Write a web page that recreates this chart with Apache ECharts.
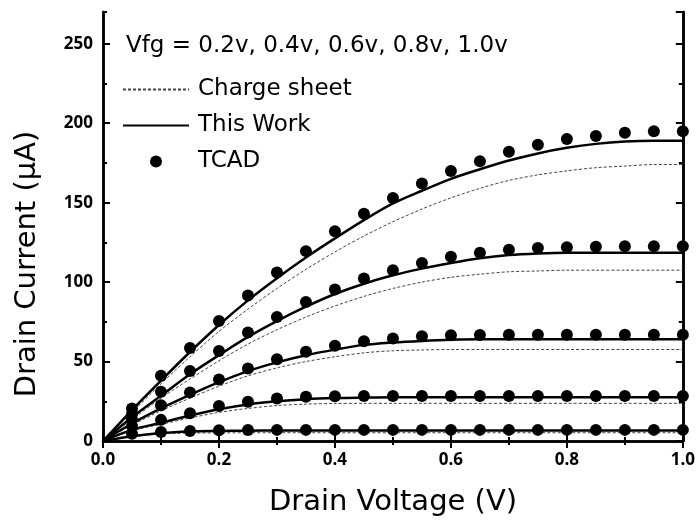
<!DOCTYPE html>
<html>
<head>
<meta charset="utf-8">
<script src="https://cdn.jsdelivr.net/npm/echarts@6/dist/echarts.min.js"></script>
<style>html,body{margin:0;padding:0;background:#fff}#c{width:698px;height:527px}</style>
</head>
<body>
<div id="c"></div>
<script>
// Drain voltage samples
var vdLine = [0, 0.05, 0.1, 0.15, 0.2, 0.25, 0.3, 0.35, 0.4, 0.45, 0.5, 0.55, 0.6, 0.65, 0.7, 0.75, 0.8, 0.85, 0.9, 0.95, 1.0];
var vdTcad = [0.05, 0.1, 0.15, 0.2, 0.25, 0.3, 0.35, 0.4, 0.45, 0.5, 0.55, 0.6, 0.65, 0.7, 0.75, 0.8, 0.85, 0.9, 0.95, 1.0];
var vfgList = ['0.2', '0.4', '0.6', '0.8', '1.0'];

// TCAD (uA)
var tcad02 = [4.5, 5.6, 6.3, 6.7, 6.9, 7.0, 7.0, 7.0, 7.0, 7.0, 7.0, 7.0, 7.0, 7.0, 7.0, 7.0, 7.0, 7.0, 7.0, 7.0];
var tcad04 = [9.5, 13.3, 17.4, 22.0, 24.7, 26.8, 27.8, 28.2, 28.3, 28.3, 28.3, 28.3, 28.3, 28.3, 28.3, 28.3, 28.3, 28.3, 28.3, 28.3];
var tcad06 = [13.5, 22.5, 30.6, 38.7, 45.6, 51.5, 56.1, 59.9, 62.8, 64.5, 66.0, 66.5, 66.7, 66.8, 66.8, 66.8, 66.8, 66.8, 66.8, 66.8];
var tcad08 = [17.0, 31.0, 44.0, 56.7, 68.3, 78.0, 87.5, 95.3, 102.2, 107.4, 112.0, 116.0, 118.5, 120.4, 121.4, 122.0, 122.3, 122.5, 122.5, 122.5];
var tcad10 = [20.5, 41.0, 58.5, 75.5, 91.5, 106.0, 119.5, 132.0, 143.0, 153.0, 162.0, 170.0, 176.0, 182.0, 186.5, 190.0, 192.0, 194.0, 195.0, 195.0];

// This Work model (uA)
var work02 = [0, 3.0, 5.0, 6.0, 6.3, 6.5, 6.6, 6.6, 6.6, 6.6, 6.6, 6.6, 6.6, 6.6, 6.6, 6.6, 6.6, 6.6, 6.6, 6.6, 6.6];
var work04 = [0, 7.0, 11.5, 16.0, 20.0, 23.0, 25.0, 26.3, 27.0, 27.3, 27.5, 27.5, 27.5, 27.5, 27.5, 27.5, 27.5, 27.5, 27.5, 27.5, 27.5];
var work06 = [0, 11.0, 20.5, 29.0, 37.0, 44.0, 49.5, 54.0, 57.5, 60.5, 62.0, 63.0, 63.7, 64.0, 64.0, 64.0, 64.0, 64.0, 64.0, 64.0, 64.0];
var work08 = [0, 15.0, 28.5, 42.0, 54.0, 65.5, 75.5, 84.5, 92.5, 99.0, 104.3, 108.5, 112.0, 115.0, 117.0, 118.0, 118.5, 118.5, 118.5, 118.5, 118.5];
var work10 = [0, 19.5, 38.0, 56.0, 73.0, 88.5, 102.5, 115.5, 127.5, 139.0, 149.5, 157.5, 165.0, 171.0, 176.5, 181.0, 184.5, 187.0, 188.5, 189.0, 189.0];

// Charge sheet model (uA)
var sheet02 = [0, 2.8, 4.5, 5.0, 5.1, 5.2, 5.2, 5.2, 5.2, 5.2, 5.2, 5.2, 5.2, 5.2, 5.2, 5.2, 5.2, 5.2, 5.2, 5.2, 5.2];
var sheet04 = [0, 6.5, 10.5, 14.5, 18.0, 20.5, 22.3, 23.2, 23.6, 23.7, 23.7, 23.7, 23.7, 23.7, 23.7, 23.7, 23.7, 23.7, 23.7, 23.7, 23.7];
var sheet06 = [0, 10.0, 19.0, 27.0, 34.5, 41.0, 46.0, 50.0, 53.0, 55.5, 56.8, 57.3, 57.6, 57.6, 57.6, 57.6, 57.6, 57.6, 57.6, 57.6, 57.6];
var sheet08 = [0, 13.5, 27.0, 39.0, 50.5, 61.0, 70.0, 78.0, 85.0, 91.0, 96.0, 100.0, 103.0, 105.0, 106.5, 107.0, 107.5, 107.5, 107.5, 107.5, 107.5];
var sheet10 = [0, 18.0, 36.0, 53.0, 69.0, 83.0, 96.0, 108.0, 119.0, 129.0, 138.0, 146.0, 153.0, 159.0, 164.0, 167.5, 170.0, 172.0, 173.0, 174.0, 174.0];

var yTicks = [0, 50, 100, 150, 200, 250];

var tcadAll = [tcad02, tcad04, tcad06, tcad08, tcad10];
var workAll = [work02, work04, work06, work08, work10];
var sheetAll = [sheet02, sheet04, sheet06, sheet08, sheet10];

function pair(xs, ys) { return xs.map(function (x, i) { return [x, ys[i]]; }); }

var TXT = 'DejaVu Sans';
var LBL = { fontFamily: 'Open Sans', fontWeight: 'bold', fontSize: 17, color: '#000' };
var AX = { lineStyle: { color: '#000', width: 2.5 } };
var CLEAR = 'rgba(0,0,0,0)';

var series = [];
for (var k = 0; k < 5; k++) {
  series.push({
    name: 'Charge sheet', type: 'line', data: pair(vdLine, sheetAll[k]), symbol: 'none', smooth: 0.3,
    itemStyle: { color: CLEAR, borderWidth: 0 },
    lineStyle: { color: '#444', width: 1, type: [3, 2] }, z: 2, silent: true
  });
  series.push({
    name: 'This Work', type: 'line', data: pair(vdLine, workAll[k]), symbol: 'none', smooth: 0.3,
    itemStyle: { color: CLEAR, borderWidth: 0 },
    lineStyle: { color: '#000', width: 2.5 }, z: 3, silent: true
  });
  series.push({
    name: 'TCAD', type: 'scatter', data: pair(vdTcad, tcadAll[k]), symbol: 'circle', symbolSize: 12,
    itemStyle: { color: '#000', opacity: 1 }, z: 4, silent: true
  });
}

var tickStyle = { width: 2, color: '#000' };

var chart = echarts.init(document.getElementById('c'), null, { renderer: 'canvas' });
chart.setOption({
  animation: false,
  backgroundColor: '#fff',
  grid: { left: 103, right: 14, top: 12, bottom: 86 },
  title: {
    text: 'Vfg = ' + vfgList.map(function (v) { return v + 'v'; }).join(', '),
    left: 126, top: 33, padding: 0,
    textStyle: { fontFamily: TXT, fontWeight: 'normal', fontSize: 23, lineHeight: 26, color: '#000' }
  },
  legend: {
    orient: 'vertical', left: 122, top: 77, padding: 0, itemWidth: 66, itemHeight: 12, itemGap: 11,
    data: ['Charge sheet', 'This Work', 'TCAD'],
    textStyle: { fontFamily: TXT, fontSize: 23, lineHeight: 25, color: '#000', padding: [0, 0, 0, 4] },
    selectedMode: false
  },
  graphic: [
    {
      type: 'text', x: 393, y: 502, silent: true,
      style: { text: 'Drain Voltage (V)', fontFamily: TXT, fontSize: 29, fill: '#000', align: 'center', verticalAlign: 'middle' }
    },
    {
      type: 'text', x: 27, y: 264, rotation: Math.PI / 2, silent: true,
      style: { text: 'Drain Current (\u03bcA)', fontFamily: TXT, fontSize: 29, fill: '#000', align: 'center', verticalAlign: 'middle' }
    }
  ],
  xAxis: [
    {
      type: 'value', min: 0, max: 1, interval: 0.2, position: 'bottom',
      axisLine: AX, splitLine: { show: false },
      axisTick: { inside: true, length: 7, lineStyle: tickStyle },
      minorTick: { show: true, splitNumber: 2, length: 4, lineStyle: tickStyle },
      axisLabel: Object.assign({ margin: 11, formatter: function (v) { return v.toFixed(1); } }, LBL)
    },
    {
      type: 'value', min: 0, max: 1, interval: 0.2, position: 'top',
      axisLine: AX, splitLine: { show: false },
      axisTick: { inside: true, length: 7, lineStyle: tickStyle },
      minorTick: { show: true, splitNumber: 2, length: 4, lineStyle: tickStyle },
      axisLabel: { show: false }
    }
  ],
  yAxis: [
    {
      type: 'value', min: 0, max: 270, interval: 50, position: 'left',
      axisLine: AX, splitLine: { show: false },
      axisTick: { inside: true, length: 7, lineStyle: tickStyle },
      axisLabel: Object.assign({ margin: 10, showMaxLabel: false, formatter: function (v) { return yTicks.indexOf(v) >= 0 ? String(v) : ''; } }, LBL)
    },
    {
      type: 'value', min: 0, max: 270, interval: 25, position: 'left',
      axisLine: AX, splitLine: { show: false },
      axisTick: { inside: true, length: 4, lineStyle: tickStyle },
      axisLabel: { show: false }
    },
    {
      type: 'value', min: 0, max: 270, interval: 50, position: 'right',
      axisLine: AX, splitLine: { show: false },
      axisTick: { inside: true, length: 7, lineStyle: tickStyle },
      axisLabel: { show: false }
    },
    {
      type: 'value', min: 0, max: 270, interval: 25, position: 'right',
      axisLine: AX, splitLine: { show: false },
      axisTick: { inside: true, length: 4, lineStyle: tickStyle },
      axisLabel: { show: false }
    }
  ],
  series: series
});
</script>
</body>
</html>
